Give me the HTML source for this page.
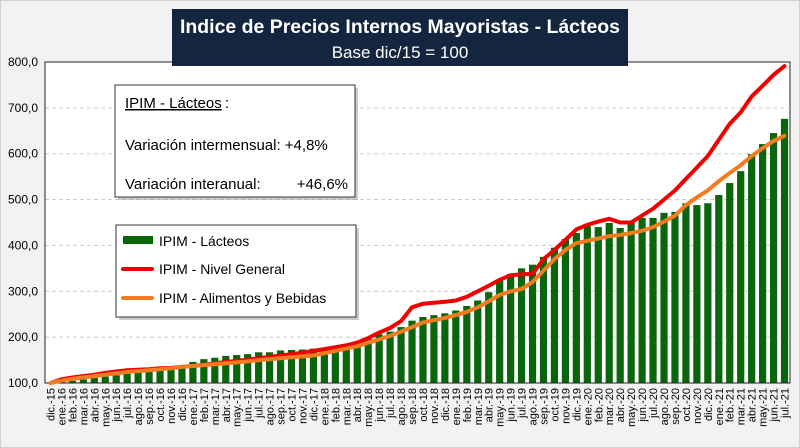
<!DOCTYPE html>
<html><head><meta charset="utf-8"><style>
body{margin:0;background:#f2f2f2;}
#c{position:relative;width:800px;height:448px;overflow:hidden;font-family:"Liberation Sans",sans-serif;background:#f2f2f2;}
</style></head><body><div id="c"><svg id="s" width="800" height="448" xmlns="http://www.w3.org/2000/svg"></svg></div>
<script>
const lac=[100,102,105,108,111,114,117,120,123,126,128,130,138,146,152,155,159,161,163,167,167,171,172,173,175,176,179,181,187,196,206,212,222,236,244,248,252,258,268,280,298,323,338,350,358,375,395,414,427,442,440,449,438,449,460,460,471,473,492,488,492,510,536,562,599,621,645,676];
const red=[100,108,112,115,118,122,125,128,129,130,132,133,135,137,140,143,146,148,151,154,157,160,163,166,170,174,178,182,188,198,210,220,235,265,273,275,277,280,288,300,312,325,335,337,338,370,390,412,435,445,452,458,450,450,465,480,500,520,545,570,595,630,665,690,725,748,772,791];
const ora=[100,105,109,112,115,118,121,124,126,128,130,132,135,137,139,141,143,145,147,150,152,154,156,158,160,165,170,175,180,188,195,203,212,222,232,237,242,248,255,265,278,292,300,305,320,345,370,390,405,410,415,420,423,427,432,440,452,465,488,505,520,540,558,575,595,612,628,639];
const mes=["ene","feb","mar","abr","may","jun","jul","ago","sep","oct","nov","dic"];
const labs=["dic.-15"];for(let y=16;y<=21;y++)for(let m=0;m<12;m++){if(y==21&&m>6)break;labs.push(mes[m]+".-"+y);}
const X0=45,X1=790,Y0=383,k=45.86/100;
const w=(X1-X0)/68;const cx=i=>X0+w/2+w*i;const cy=v=>Y0-(v-100)*k;
let h='';
h+='<rect x="0.5" y="0.5" width="799" height="447" fill="#f2f2f2" stroke="#d0d0d0"/>';
h+=`<rect x="${X0}" y="62" width="${X1-X0}" height="${Y0-62}" fill="#fff" stroke="#222" stroke-width="1"/>`;
for(let v=200;v<=700;v+=100){const y=cy(v);h+=`<line x1="${X0}" x2="${X1}" y1="${y}" y2="${y}" stroke="#ccc" stroke-dasharray="4,3"/>`;}
for(let v=100;v<=800;v+=100){h+=`<text x="38" y="${cy(v)+4}" font-size="12" text-anchor="end" fill="#000">${v},0</text>`;}
lac.forEach((v,i)=>{const y=cy(v);h+=`<rect x="${cx(i)-3.6}" y="${y}" width="7.2" height="${Y0-y}" fill="#0a660a"/>`;});
h+=`<line x1="${X0}" x2="${X0}" y1="62" y2="${Y0}" stroke="#222"/><line x1="${X0}" x2="${X1}" y1="${Y0}" y2="${Y0}" stroke="#222"/>`;
const pl=(a,c)=>`<polyline fill="none" stroke="${c}" stroke-width="4" stroke-linejoin="round" stroke-linecap="round" points="${a.map((v,i)=>cx(i).toFixed(1)+','+cy(v).toFixed(1)).join(' ')}"/>`;
h+=pl(red,'#f00000')+pl(ora,'#f47b20');
labs.forEach((l,i)=>{h+=`<text transform="translate(${cx(i)+4},388) rotate(-90)" font-size="11" text-anchor="end" fill="#000">${l}</text>`;});
h+='<rect x="172" y="9" width="456" height="57" fill="#13253f"/>';
h+='<text x="400" y="33" font-size="19" font-weight="bold" fill="#fff" text-anchor="middle" textLength="440" lengthAdjust="spacingAndGlyphs">Indice de Precios Internos Mayoristas - Lácteos</text>';
h+='<text x="400" y="58" font-size="17" fill="#fff" text-anchor="middle">Base dic/15 = 100</text>';
h+='<rect x="118" y="88" width="240" height="112" fill="#999" opacity="0.5"/><rect x="115" y="85" width="240" height="112" fill="#fff" stroke="#333"/>';
h+='<text x="125" y="108" font-size="15" text-decoration="underline">IPIM - Lácteos</text><text x="225" y="108" font-size="15">:</text>';
h+='<text x="125" y="150" font-size="15">Variación intermensual: +4,8%</text>';
h+='<text x="125" y="189" font-size="15">Variación interanual:</text><text x="348" y="189" font-size="15" text-anchor="end">+46,6%</text>';
h+='<rect x="119" y="228" width="240" height="92" fill="#999" opacity="0.5"/><rect x="116" y="225" width="240" height="92" fill="#fff" stroke="#333"/>';
h+='<rect x="123" y="236" width="30" height="8" fill="#0a660a"/><text x="159" y="246" font-size="14">IPIM - Lácteos</text>';
h+='<line x1="123" x2="152" y1="269" y2="269" stroke="#f00000" stroke-width="4" stroke-linecap="round"/><text x="159" y="274" font-size="14">IPIM - Nivel General</text>';
h+='<line x1="123" x2="152" y1="298" y2="298" stroke="#f47b20" stroke-width="4" stroke-linecap="round"/><text x="159" y="303" font-size="14">IPIM - Alimentos y Bebidas</text>';
document.getElementById('s').innerHTML=h;
</script></body></html>
